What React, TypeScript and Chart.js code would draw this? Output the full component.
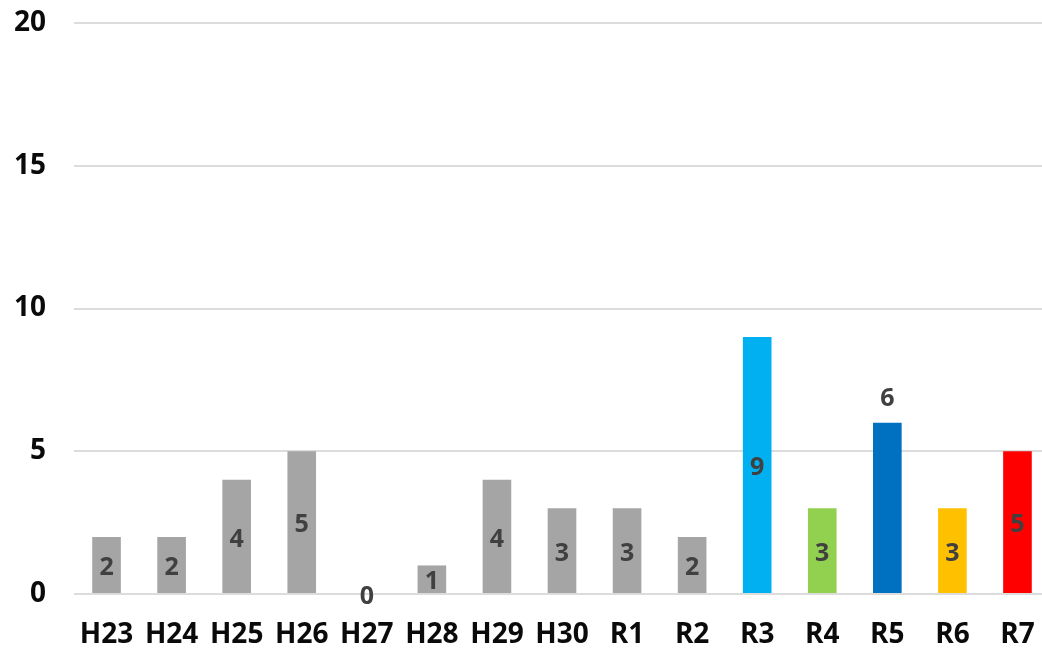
import React, { useEffect, useRef } from "react";
import { Chart, registerables } from "chart.js";

Chart.register(...registerables);

const categories = ["H23", "H24", "H25", "H26", "H27", "H28", "H29", "H30", "R1", "R2", "R3", "R4", "R5", "R6", "R7"];
const values = [2, 2, 4, 5, 0, 1, 4, 3, 3, 2, 9, 3, 6, 3, 5];
const yTickValues = [0, 5, 10, 15, 20];
const labelPlacement = ["center", "center", "center", "center", "center", "center", "center", "center", "center", "center", "center", "center", "above", "center", "center"];

const GRAY = "#A5A5A5";
const barColors = [GRAY, GRAY, GRAY, GRAY, GRAY, GRAY, GRAY, GRAY, GRAY, GRAY, "#00B0F0", "#92D050", "#0070C0", "#FFC000", "#FF0000"];

const AXIS_FONT = "'Open Sans', 'Noto Sans', sans-serif";
const LABEL_FONT = "'Open Sans', 'Noto Sans', sans-serif";

const valueLabels = {
  id: "valueLabels",
  afterDatasetsDraw(chart: any) {
    const ctx = chart.ctx;
    const meta = chart.getDatasetMeta(0);
    ctx.save();
    ctx.font = `bold 25px ${LABEL_FONT}`;
    ctx.fillStyle = "#404040";
    ctx.textAlign = "center";
    ctx.textBaseline = "middle";
    meta.data.forEach((el: any, i: number) => {
      const v = values[i];
      let y;
      if (labelPlacement[i] === "above") {
        y = el.y - 24;
      } else {
        y = (el.y + el.base) / 2 + 3;
      }
      ctx.fillText(String(v), el.x, y);
    });
    ctx.restore();
  },
};

export default function App() {
  const ref = useRef<HTMLCanvasElement | null>(null);
  useEffect(() => {
    document.body.style.overflow = "hidden";
    const chart = new Chart(ref.current as HTMLCanvasElement, {
      type: "bar",
      data: {
        labels: categories,
        datasets: [
          {
            data: values,
            backgroundColor: barColors,
            borderWidth: 0,
            barPercentage: 0.44,
            categoryPercentage: 1,
          },
        ],
      },
      plugins: [valueLabels],
      options: {
        animation: false,
        responsive: false,
        maintainAspectRatio: false,
        layout: { padding: { top: 23, left: 0, right: 0, bottom: 0 } },
        plugins: {
          legend: { display: false },
          tooltip: { enabled: false },
        },
        scales: {
          x: {
            grid: { display: false, drawTicks: false },
            border: { display: false },
            ticks: {
              color: "#0A0A0A",
              font: { family: AXIS_FONT, size: 28, weight: "bold" },
              padding: 24,
              autoSkip: false,
              maxRotation: 0,
            },
            afterFit(scale: any) {
              scale.height = 59;
              scale.paddingLeft = 0;
              scale.paddingRight = 0;
            },
          },
          y: {
            min: 0,
            max: 20,
            afterBuildTicks(scale: any) {
              scale.ticks = yTickValues.map((v) => ({ value: v }));
            },
            grid: { color: "#DCDCDC", lineWidth: 2, drawTicks: false },
            border: { display: false },
            ticks: {
              color: "#0A0A0A",
              font: { family: AXIS_FONT, size: 28, weight: "bold" },
              padding: 28,
            },
            afterFit(scale: any) {
              scale.width = 74;
              scale.paddingTop = 0;
              scale.paddingBottom = 0;
            },
          },
        },
      },
    } as any);
    return () => chart.destroy();
  }, []);
  return (
    <div style={{ position: "absolute", left: 0, top: 0, width: 1050, height: 653 }}>
      <canvas ref={ref} width={1050} height={653} style={{ display: "block" }} />
    </div>
  );
}
